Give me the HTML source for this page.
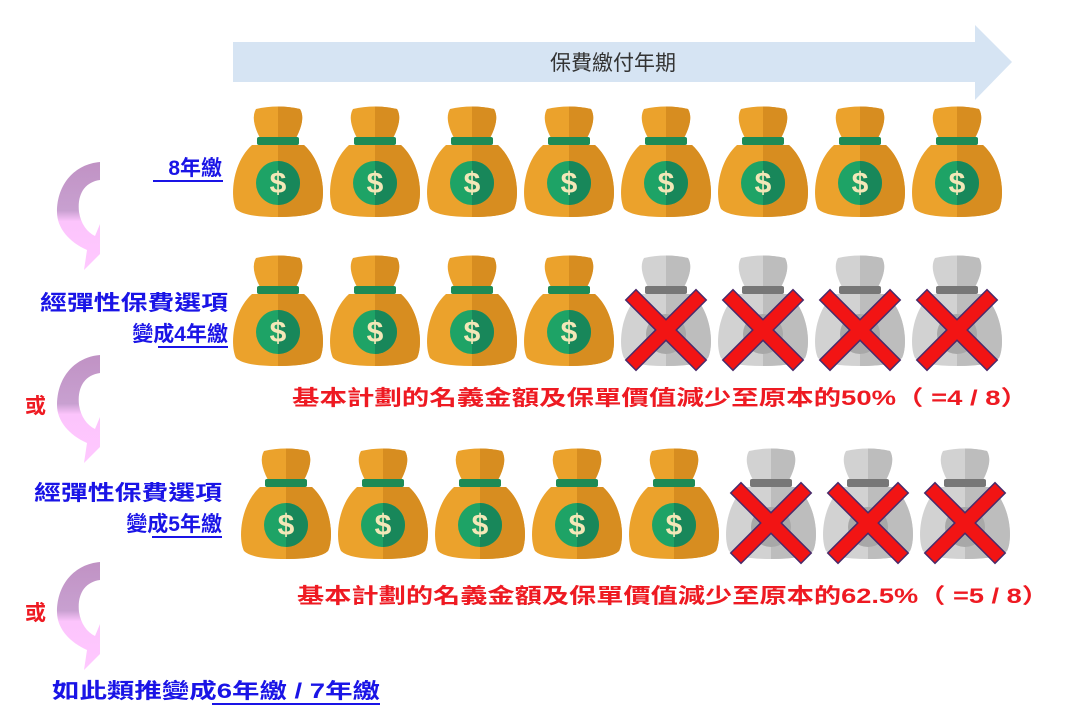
<!DOCTYPE html>
<html><head><meta charset="utf-8"><style>
html,body{margin:0;padding:0;background:#fff;width:1080px;height:716px;overflow:hidden}
svg{display:block}
text{font-family:"Liberation Sans","Noto Sans CJK TC",sans-serif;font-weight:bold}
</style></head><body>
<svg width="1080" height="716" viewBox="0 0 1080 716" xmlns="http://www.w3.org/2000/svg">
<defs>
<clipPath id="rh"><rect x="48" y="-5" width="60" height="130"/></clipPath>
<linearGradient id="ag" x1="0" y1="0" x2="0" y2="1">
<stop offset="0" stop-color="#c092c4"/><stop offset="0.45" stop-color="#c8a0d0"/><stop offset="0.55" stop-color="#fcc4fc"/><stop offset="1" stop-color="#ffc8ff"/></linearGradient>
<g id="bagshape">
<path d="M26,4 Q48,-1 70,4 Q76,14 66,33 L30,33 Q20,14 26,4Z"/>
<path d="M22,40 C2,58 0,92 6,104 Q14,112 48,112 Q82,112 90,104 C96,92 94,58 74,40Z"/>
</g>
<g id="gold">
<use href="#bagshape" fill="#eba22c"/>
<use href="#bagshape" fill="#d78d20" clip-path="url(#rh)"/>
<rect x="27" y="32" width="42" height="8" rx="2" fill="#1e8a55"/>
<circle cx="48" cy="78" r="22" fill="#1ea366"/>
<path d="M48,56 A22,22 0 0 1 48,100Z" fill="#18875a"/>
<text x="48" y="88" text-anchor="middle" font-size="30" fill="#f3e7b8" style="font-weight:bold">$</text>
</g>
<g id="grey">
<use href="#bagshape" fill="#d2d2d2"/>
<use href="#bagshape" fill="#bdbdbd" clip-path="url(#rh)"/>
<rect x="27" y="32" width="42" height="8" rx="2" fill="#777"/>
<circle cx="48" cy="80" r="20" fill="#a8a8a8"/>
<path d="M18,46 L78,106 M78,46 L18,106" stroke="#4a2a6a" stroke-width="16" stroke-linecap="square"/>
<path d="M18,46 L78,106 M78,46 L18,106" stroke="#f21414" stroke-width="13" stroke-linecap="square"/>
</g>
<path id="carr" d="M43,0 L43,18 C28,20 20,32 22,50 C24,62 30,70 38,74 L43,62 L43,92 L27,108 L30,88 C12,80 0,66 0,50 C0,22 18,2 43,0Z" fill="url(#ag)"/>
</defs>

<!-- top arrow -->
<path d="M233,42 L975,42 L975,25 L1012,62 L975,100 L975,82 L233,82Z" fill="#d6e4f3"/>
<text x="613" y="70" text-anchor="middle" font-size="21" fill="#333" style="font-weight:normal">保費繳付年期</text>

<!-- row 1 -->
<use href="#gold" x="230" y="105"/><use href="#gold" x="327" y="105"/><use href="#gold" x="424" y="105"/><use href="#gold" x="521" y="105"/>
<use href="#gold" x="618" y="105"/><use href="#gold" x="715" y="105"/><use href="#gold" x="812" y="105"/><use href="#gold" x="909" y="105"/>
<!-- row 2 -->
<use href="#gold" x="230" y="254"/><use href="#gold" x="327" y="254"/><use href="#gold" x="424" y="254"/><use href="#gold" x="521" y="254"/>
<use href="#grey" x="618" y="254"/><use href="#grey" x="715" y="254"/><use href="#grey" x="812" y="254"/><use href="#grey" x="909" y="254"/>
<!-- row 3 -->
<use href="#gold" x="238" y="447"/><use href="#gold" x="335" y="447"/><use href="#gold" x="432" y="447"/><use href="#gold" x="529" y="447"/><use href="#gold" x="626" y="447"/>
<use href="#grey" x="723" y="447"/><use href="#grey" x="820" y="447"/><use href="#grey" x="917" y="447"/>

<!-- curved arrows -->
<use href="#carr" x="57" y="162"/>
<use href="#carr" x="57" y="355"/>
<use href="#carr" x="57" y="562"/>

<!-- labels -->
<g fill="#1a14e6" font-size="21">
<text x="222" y="175" text-anchor="end">8年繳</text>
<rect x="153" y="180" width="70" height="2"/>
<text x="228" y="310" text-anchor="end" textLength="188" lengthAdjust="spacingAndGlyphs">經彈性保費選項</text>
<text x="228" y="341" text-anchor="end">變成4年繳</text>
<rect x="158" y="346" width="70" height="2"/>
<text x="222" y="500" text-anchor="end" textLength="188" lengthAdjust="spacingAndGlyphs">經彈性保費選項</text>
<text x="222" y="531" text-anchor="end">變成5年繳</text>
<rect x="152" y="536" width="70" height="2"/>
<text x="52" y="698" textLength="328" lengthAdjust="spacingAndGlyphs">如此類推變成6年繳 / 7年繳</text>
<rect x="212" y="703" width="168" height="2"/>
</g>
<g fill="#ee1a22" font-size="21">
<text x="25" y="413">或</text>
<text x="25" y="620">或</text>
<text x="292" y="405" textLength="736" lengthAdjust="spacingAndGlyphs">基本計劃的名義金額及保單價值減少至原本的50%（ =4 / 8）</text>
<text x="297" y="603" textLength="752" lengthAdjust="spacingAndGlyphs">基本計劃的名義金額及保單價值減少至原本的62.5%（ =5 / 8）</text>
</g>
</svg>
</body></html>
